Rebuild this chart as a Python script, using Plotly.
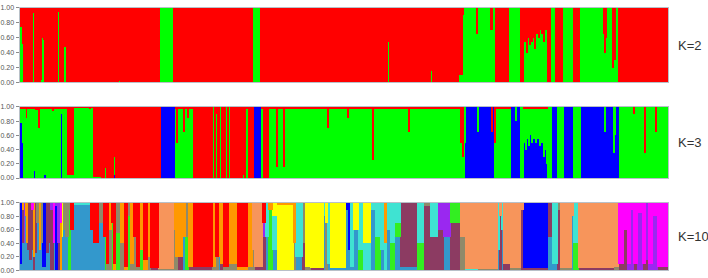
import plotly.graph_objects as go

W, H = 708, 278

# ---------------- data ----------------
# K=2 : runs of individuals -> (count, green fraction); red is the rest
K2_RUNS = [
    (2, .75), (1, .52), (10, 0), (1, .95), (1, .93), (1, 0), (1, .83), (4, 0), (1, .03),
    (1, .67), (1, .6), (1, .57), (3, 0), (1, .42), (1, 0), (1, .35), (1, 0), (1, .66),
    (5, 0), (1, .97), (1, .95), (4, 0), (1, 1), (1, .48), (1, 1), (21, 0), (1, .07),
    (7, 0), (1, .03), (1, 0), (1, .04), (13, 0), (1, .28), (6, 0), (1, .37), (1, .02),
    (25, 0), (1, .03), (5, 0), (1, .07), (7, 0), (14, 1), (1, 0), (1, 1), (1, 0), (1, 1),
    (11, 0), (1, .04), (29, 0), (1, .02), (33, 0), (8, 1), (27, 0), (1, .25), (19, 0),
    (1, .03), (1, 0), (1, .12), (14, 0), (1, .05), (35, 0), (1, .1), (5, 0), (1, .03),
    (20, 0), (1, .55), (1, .63), (20, 0), (1, .02), (20, 0), (1, 1), (1, .15), (11, 0),
    (1, 1), (3, 0), (1, .08), (10, 0), (1, 1), (1, .1), (1, 1), (1, .1), (1, .9),
    (13, 1), (1, .65), (13, 1), (2, .7), (3, 1), (13, 0), (12, 1), (3, 0),
    (1, .8), (1, .55), (1, .7), (1, .4), (1, .75), (1, .6), (1, .5), (1, .65), (1, .55),
    (1, .7), (1, .6), (1, .45), (1, .7), (1, .65), (1, .75), (1, .6), (1, .7), (1, .8),
    (1, .65), (1, .75), (1, .55), (1, .8), (1, .7), (1, .85),
    (3, 0), (5, 1), (7, 0), (11, 1), (6, 0), (24, 1), (1, .65), (1, .4), (1, .6), (6, 1),
    (1, .2), (1, .5), (1, .3), (3, 1), (50, 0),
]

# K=3 : (count, blue fraction, green fraction); red is the rest
K3_RUNS = [
    (2, .77, .2), (1, .5, .47), (3, 0, .97), (1, 0, .85), (2, 0, .97), (1, .1, .88),
    (4, 0, .97), (1, .1, .88), (1, .93, .05), (3, 0, .96), (1, 0, .7), (4, 0, .97),
    (1, .67, .3), (1, .04, .93), (1, .57, .4), (3, 0, .97), (1, .47, .5), (2, 0, .97),
    (1, .35, .6), (7, 0, .97), (1, .95, .04), (1, .9, .08), (3, 0, .97), (1, .55, .42),
    (1, 0, .97), (6, 0, .05), (16, 0, .99), (1, .08, .9), (3, 0, .99), (7, 0, .01),
    (1, 0, .05), (3, 0, 0), (1, 0, .2), (1, .02, .12), (7, 0, 0), (1, .05, .3),
    (1, .25, .05), (5, 0, 0), (1, .25, 0), (3, 0, 0), (1, 0, .3), (1, 0, 0), (1, 0, .97),
    (3, 0, 0), (1, 0, .88), (1, 0, 0), (1, 0, .85), (14, 0, 0), (1, .02, .05), (1, 0, 0),
    (1, 0, .04), (10, 0, 0), (15, 1, 0), (1, 0, .97), (1, 0, .5), (1, 0, .97),
    (5, 0, .97), (1, 0, .65), (3, 0, .97), (1, .05, .8), (5, 0, .97), (19, 0, 0),
    (1, 0, 1), (1, 0, 1), (1, 0, 0), (1, 0, 1), (1, 0, .9), (1, 0, 0), (1, 0, 0),
    (1, 0, 1), (1, 0, 1), (1, 0, 0), (1, 0, .95), (1, 0, 0), (1, 0, 0), (1, 0, 1),
    (1, 0, 1), (1, 0, 0), (1, 0, 1), (1, 0, 1), (1, 0, 0), (1, 0, 0), (1, 0, 1),
    (2, 0, 0), (1, 0, .9), (6, 0, 0), (2, 0, .05), (1, 0, 0), (3, 0, .98), (5, 0, 0),
    (8, 1, 0), (2, 0, .98), (1, 0, 0), (1, 0, .98), (1, 0, 0), (1, 0, .98), (1, 0, 0),
    (8, 0, .98), (1, 0, .15), (6, 0, .98), (1, 0, .15), (2, 0, .98), (1, .1, .88),
    (1, 0, .98), (1, .2, .78), (29, 0, .98), (1, .04, .94), (8, 0, .98), (1, 0, .7),
    (19, 0, .98), (1, 0, .85), (15, 0, .98), (1, .08, .9), (8, 0, .98), (1, 0, .25),
    (15, 0, .98), (1, .6, .38), (6, 0, .98), (1, .05, .93), (12, 0, .98), (1, 0, .65),
    (23, 0, .98), (1, 1, 0), (12, 0, .98), (1, .95, .05), (14, 0, .98), (1, 0, .5),
    (1, 0, 1), (1, 0, .3), (1, 0, 1), (1, .5, .5), (12, 1, 0), (1, .65, .35), (13, 1, 0),
    (1, .65, 0), (2, 1, 0), (1, 0, .5), (15, 0, .98), (5, 1, 0), (1, .8, .2), (4, 1, 0),
    (3, 0, 1),
    (1, .5, .48), (1, .6, .38), (1, .4, .58), (1, .55, .43), (1, .65, .33), (1, .45, .53),
    (1, .7, .28), (1, .6, .38), (1, .5, .48), (1, .65, .33), (1, .55, .43), (1, .6, .38),
    (1, .5, .48), (1, .7, .28), (1, .55, .43), (1, .6, .38), (1, .45, .53), (1, .65, .33),
    (1, .5, .48), (1, .55, .43), (1, .3, .68), (1, .6, .38), (1, .4, .58), (1, .2, .78),
    (4, 0, 1), (6, 1, 0), (6, 0, 1), (10, 1, 0), (7, 0, 1), (24, 1, 0), (1, .65, .35),
    (8, 1, 0), (1, .35, .65), (1, .6, .4), (4, 1, 0), (14, 0, 1), (1, 0, .9), (10, 0, 1),
    (1, 0, .35), (10, 0, 1), (1, 0, .65), (12, 0, 1),
]

# K=10 : (count, cluster, fraction, cluster, fraction [, cluster, fraction])
K10_RUNS = [
    (2, "B", .9, "T", .1), (2, "P", .5, "T", .4, "O", .1), (1, "V", .6, "T", .4),
    (2, "T", .8, "O", .2), (1, "O", .6, "T", .4), (2, "P", .7, "T", .3),
    (2, "P", .85, "T", .15), (2, "P", .6, "T", .3, "M", .1), (1, "O", .8, "P", .2),
    (2, "P", .75, "T", .25), (3, "T", .7, "A", .3), (1, "O", .7, "T", .3),
    (2, "A", .6, "T", .4), (3, "B", .95, "T", .05), (3, "P", .75, "T", .25),
    (2, "P", .6, "T", .4), (3, "P", .9, "V", .1), (1, "M", .6, "T", .4),
    (1, "T", .8, "P", .2), (2, "B", .95, "V", .05), (3, "V", .6, "P", .4),
    (1, "O", .7, "M", .3), (1, "Y", .5, "T", .5), (3, "T", .6, "A", .4),
    (3, "A", .5, "T", .5), (2, "G", .9, "A", .1), (3, "T", .6, "R", .4),
    (17, "T", .97, "C", .03), (3, "T", .6, "R", .4), (5, "R", .6, "T", .4),
    (5, "T", .7, "A", .3), (2, "R", .5, "T", .5), (1, "G", .9, "R", .1),
    (2, "R", .9, "A", .1), (3, "A", .6, "O", .4), (2, "G", .7, "R", .3),
    (2, "R", .9, "O", .1), (5, "G", .55, "A", .45), (4, "O", .6, "A", .4),
    (3, "R", .95, "O", .05), (3, "G", .8, "A", .2), (3, "O", .9, "A", .1),
    (3, "A", .5, "R", .5), (3, "R", .95, "A", .05), (1, "G", .9, "A", .1),
    (3, "O", .7, "G", .3), (4, "R", .85, "O", .15), (3, "O", .8, "A", .2),
    (8, "R", .97, "P", .03), (15, "S", .98, "A", .02), (2, "A", .6, "O", .4),
    (2, "O", .8, "A", .2), (5, "O", .8, "P", .2), (3, "T", .5, "O", .5),
    (3, "G", .5, "A", .5), (5, "O", .95, "P", .05), (19, "R", .95, "P", .05),
    (3, "O", .95, "A", .05), (3, "R", .8, "A", .2), (2, "O", .8, "T", .2),
    (3, "O", .9, "P", .1), (5, "R", .95, "A", .05), (9, "O", .9, "A", .1),
    (10, "R", .95, "O", .05), (5, "O", .95, "A", .05), (2, "S", .7, "A", .3),
    (8, "S", .95, "P", .05), (3, "P", .5, "R", .3, "V", .2), (3, "C", .5, "T", .5),
    (4, "G", .9, "O", .1), (5, "C", .5, "T", .3, "Y", .2), (16, "Y", .97, "O", .03),
    (2, "O", .6, "A", .4), (7, "C", .8, "T", .2), (3, "A", .6, "P", .4),
    (4, "Y", .95, "A", .05), (1, "A", .9, "Y", .1), (13, "Y", .97, "P", .03),
    (2, "T", .8, "C", .2), (2, "A", .7, "Y", .3), (3, "C", .9, "T", .1),
    (15, "Y", .97, "T", .03), (3, "T", .9, "B", .1), (2, "B", .7, "T", .3),
    (3, "C", .95, "T", .05), (5, "T", .6, "Y", .4), (5, "C", .7, "G", .3),
    (7, "Y", .6, "C", .4), (5, "T", .9, "C", .1), (5, "G", .5, "C", .5),
    (4, "C", .7, "T", .3), (2, "O", .6, "C", .4), (4, "T", .6, "C", .4),
    (4, "C", .6, "G", .4), (6, "T", .5, "C", .3, "G", .2), (17, "P", .95, "T", .05),
    (6, "C", .6, "G", .4), (7, "P", .95, "A", .05), (7, "C", .5, "P", .5),
    (6, "P", .6, "V", .4), (7, "T", .5, "V", .5), (10, "P", .7, "G", .3),
    (5, "A", .5, "S", .5), (12, "S", .98, "C", .02), (1, "P", .7, "S", .3),
    (19, "S", .98, "A", .02), (2, "C", .7, "T", .3), (2, "P", .8, "S", .2),
    (2, "T", .6, "C", .4), (7, "S", .9, "P", .1), (10, "S", .97, "A", .03),
    (3, "P", .9, "S", .1), (24, "B", .97, "P", .03), (5, "T", .5, "P", .5),
    (5, "C", .9, "T", .1), (3, "P", .9, "A", .1), (11, "S", .97, "A", .03),
    (2, "T", .8, "S", .2), (5, "C", .6, "G", .4), (35, "S", .97, "P", .03),
    (1, "P", .7, "S", .3), (4, "S", .95, "A", .05), (5, "M", .9, "P", .1),
    (4, "P", .6, "M", .4), (3, "M", .9, "V", .1), (3, "V", .9, "M", .1),
    (4, "M", .9, "P", .1), (5, "V", .85, "M", .15), (3, "M", .9, "P", .1),
    (3, "V", .85, "P", .15), (4, "M", .9, "V", .1), (5, "V", .8, "M", .2),
    (11, "M", .95, "P", .05),
]

K10_ORDER = ["T", "P", "B", "V", "G", "A", "C", "Y", "O", "S", "M", "R"]
K10_COLORS = {
    "T": "#3398cc", "P": "#8c3b62", "B": "#0000ff", "V": "#9a28f0", "G": "#33ee22",
    "A": "#8f8a6a", "C": "#3fe3d2", "Y": "#ffff00", "O": "#ff9900", "S": "#f7955b",
    "M": "#ff00ff", "R": "#ff0000",
}
PANEL_LABELS = ["K=2", "K=3", "K=10"]
TICK_VALS = [0, .2, .4, .6, .8, 1.0]
TICK_TEXT = ["0.00", "0.20", "0.40", "0.60", "0.80", "1.00"]


def expand(runs, n_fields):
    cols = [[] for _ in range(n_fields)]
    for r in runs:
        for _ in range(r[0]):
            for k in range(n_fields):
                cols[k].append(r[1 + k])
    return cols


fig = go.Figure()

# ---- K=2 ----
(g2,) = expand(K2_RUNS, 1)
n2 = len(g2)
x2 = list(range(n2))
fig.add_trace(go.Bar(x=x2, y=g2, marker_color="#00ff00", xaxis="x", yaxis="y"))
fig.add_trace(go.Bar(x=x2, y=[1 - v for v in g2], marker_color="#ff0000", xaxis="x", yaxis="y"))

# ---- K=3 ----
b3, g3 = expand(K3_RUNS, 2)
n3 = len(b3)
x3 = list(range(n3))
fig.add_trace(go.Bar(x=x3, y=b3, marker_color="#0000ff", xaxis="x2", yaxis="y2"))
fig.add_trace(go.Bar(x=x3, y=g3, marker_color="#00ff00", xaxis="x2", yaxis="y2"))
fig.add_trace(go.Bar(x=x3, y=[max(0, 1 - a - b) for a, b in zip(b3, g3)],
                     marker_color="#ff0000", xaxis="x2", yaxis="y2"))

# ---- K=10 ----
k10 = {c: [] for c in K10_ORDER}
for r in K10_RUNS:
    comp = {r[i]: r[i + 1] for i in range(1, len(r), 2)}
    for _ in range(r[0]):
        for c in K10_ORDER:
            k10[c].append(comp.get(c, 0))
n10 = len(k10["T"])
x10 = list(range(n10))
for c in K10_ORDER:
    fig.add_trace(go.Bar(x=x10, y=k10[c], marker_color=K10_COLORS[c], xaxis="x3", yaxis="y3"))

fig.update_traces(marker_line_width=0, showlegend=False, hoverinfo="skip", width=1.0)

X0, X1 = 19.5 / W, 668 / W
panels = [(4, 80.5), (105.5, 178.5), (204, 273)]
ns = [n2, n3, n10]
layout = dict(
    width=W, height=H, margin=dict(l=0, r=0, t=0, b=0),
    paper_bgcolor="white", plot_bgcolor="white",
    barmode="stack", bargap=0, bargroupgap=0,
    annotations=[],
)
for i, (top, bot) in enumerate(panels):
    sfx = "" if i == 0 else str(i + 1)
    layout["xaxis" + sfx] = dict(
        domain=[X0, X1], anchor="y" + sfx, range=[-0.5, ns[i] - 0.5],
        showticklabels=False, ticks="", showgrid=False, zeroline=False,
        showline=True, linecolor="#b8c0c8", linewidth=1, mirror=True,
    )
    layout["yaxis" + sfx] = dict(
        domain=[1 - bot / H, 1 - top / H], anchor="x" + sfx, range=[0, 1],
        tickvals=TICK_VALS, ticktext=TICK_TEXT, ticks="outside", ticklen=3,
        tickcolor="#8a8a8a", tickfont=dict(size=7, color="#555555", family="Arial"),
        showgrid=False, zeroline=False,
        showline=True, linecolor="#b8c0c8", linewidth=1, mirror=True,
    )
    layout["annotations"].append(dict(
        text=PANEL_LABELS[i], xref="paper", yref="paper",
        x=676 / W, y=1 - ((top + bot) / 2) / H, xanchor="left", yanchor="middle",
        showarrow=False, font=dict(size=13, color="#333333", family="Arial"),
    ))

fig.update_layout(**layout)
fig.write_html(
    "out.html",
    config={"displayModeBar": False},
    post_script="document.body.style.margin='0';document.body.style.overflow='hidden';",
)
